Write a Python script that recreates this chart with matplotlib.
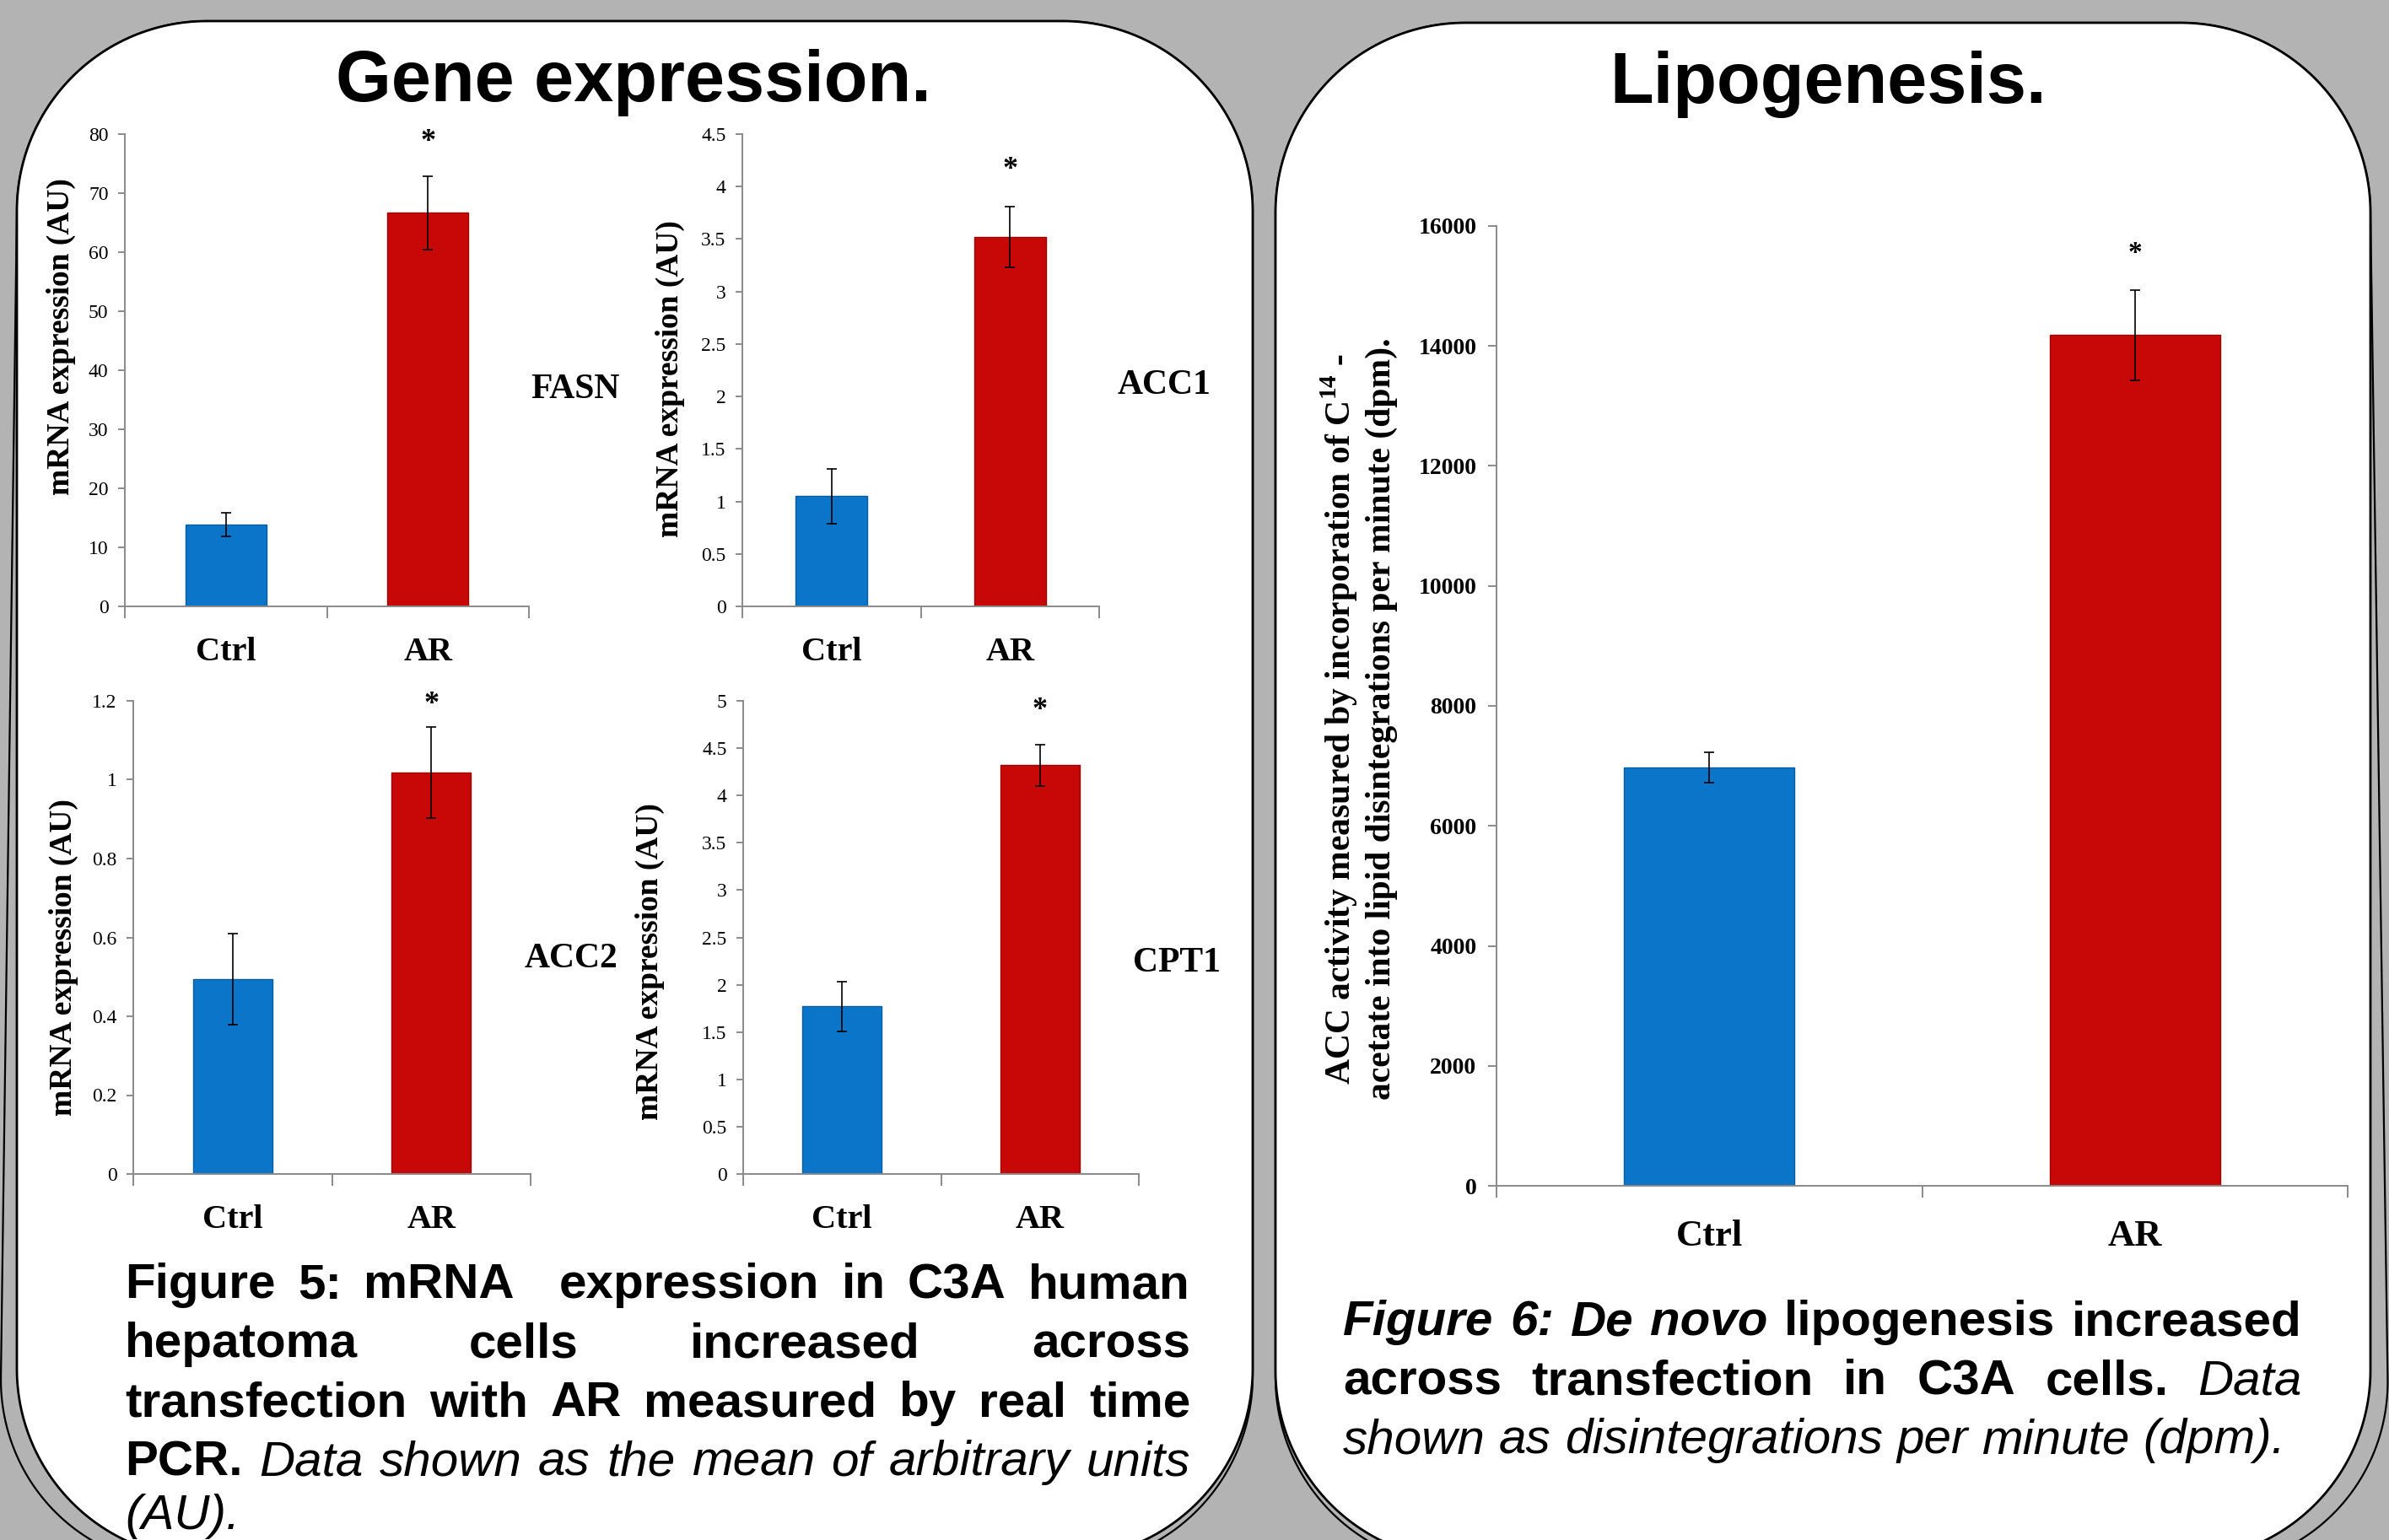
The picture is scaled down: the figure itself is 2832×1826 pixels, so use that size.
import matplotlib.pyplot as plt
import numpy as np
from matplotlib.patches import Polygon

W, H = 2832, 1826
SERIF = ['Liberation Serif', 'DejaVu Serif']
SANS = ['Liberation Sans', 'DejaVu Sans']

plt.rcParams['mathtext.fontset'] = 'custom'
plt.rcParams['mathtext.rm'] = 'Liberation Serif:bold'
plt.rcParams['mathtext.bf'] = 'Liberation Serif:bold'

groups = ['Ctrl', 'AR']

fasn_mean = [13.8, 66.7]
fasn_err = [2.0, 6.2]
acc1_mean = [1.05, 3.52]
acc1_err = [0.26, 0.29]
acc2_mean = [0.494, 1.018]
acc2_err = [0.115, 0.115]
cpt1_mean = [1.77, 4.32]
cpt1_err = [0.26, 0.22]
lipo_mean = [6975, 14180]
lipo_err = [255, 750]

fasn_ticks = [0, 10, 20, 30, 40, 50, 60, 70, 80]
acc1_ticks = [0, 0.5, 1, 1.5, 2, 2.5, 3, 3.5, 4, 4.5]
acc2_ticks = [0, 0.2, 0.4, 0.6, 0.8, 1, 1.2]
cpt1_ticks = [0, 0.5, 1, 1.5, 2, 2.5, 3, 3.5, 4, 4.5, 5]
lipo_ticks = [0, 2000, 4000, 6000, 8000, 10000, 12000, 14000, 16000]

# height of the significance star above AR
fasn_star = 78.6
acc1_star = 4.16
acc2_star = 1.19
cpt1_star = 4.9
lipo_star = 15550

BLUE, RED = '#0B75C9', '#C80707'
BLUE_EDGE, RED_EDGE = '#0A5C9E', '#9C0404'
AXC = '#8a8a8a'

fig = plt.figure(figsize=(W / 100, H / 100), dpi=100)

# background layer in pixel coordinates
bg = fig.add_axes([0, 0, 1, 1], zorder=0)
bg.set_xlim(0, W)
bg.set_ylim(H, 0)
bg.axis('off')
bg.add_patch(plt.Rectangle((0, 0), W, H, color='#b3b3b3', zorder=0))


def rounded(x0, y0, x1, y1, r, n=60):
    pts = []
    for cx, cy, a0, a1 in [(x1 - r, y0 + r, -90, 0), (x1 - r, y1 - r, 0, 90),
                           (x0 + r, y1 - r, 90, 180), (x0 + r, y0 + r, 180, 270)]:
        t = np.radians(np.linspace(a0, a1, n))
        pts += list(zip(cx + r * np.cos(t), cy + r * np.sin(t)))
    return np.array(pts)


def shadow(pts, anchor, k):
    # widen the panel outline towards the bottom, away from anchor x
    sh = pts.copy()
    f = np.clip(sh[:, 1] - 700, 0, None)
    sh[:, 0] = anchor + (sh[:, 0] - anchor) * (1 + k * f)
    sh[:, 1] += 10 * np.clip(f / 1100, 0, 1)
    return sh


# left panel + shadow
lp = rounded(20, 25, 1485, 1848, 225)
bg.add_patch(Polygon(shadow(lp, 1485, 1.4e-5), closed=True, fc='#b3b3b3', ec='black',
                     lw=1.6, zorder=1))
bg.add_patch(Polygon(lp, closed=True, fc='white', ec='black', lw=2, zorder=2))

# right panel + shadow
rp = rounded(1512, 27, 2810, 1850, 225)
bg.add_patch(Polygon(shadow(rp, 1512, 1.7e-5), closed=True, fc='#b3b3b3', ec='black',
                     lw=1.6, zorder=1))
bg.add_patch(Polygon(rp, closed=True, fc='white', ec='black', lw=2, zorder=2))

bg.text(751, 120, 'Gene expression.', family=SANS, fontweight='bold', fontsize=61,
        ha='center', va='baseline', zorder=3)
bg.text(2167, 122, 'Lipogenesis.', family=SANS, fontweight='bold', fontsize=61,
        ha='center', va='baseline', zorder=3)


def bar_chart(box, means, errs, ticks, star, label_px, gene=None, gene_px=None,
              ylabel='mRNA expression (AU)', big=False):
    x0, yt, x1, yb = box
    ax = fig.add_axes([x0 / W, 1 - yb / H, (x1 - x0) / W, (yb - yt) / H], zorder=2)
    ax.patch.set_alpha(0)
    x = np.arange(len(groups))
    ax.bar(x, means, width=0.4, color=[BLUE, RED], edgecolor=[BLUE_EDGE, RED_EDGE],
           linewidth=1, zorder=2)
    ax.errorbar(x, means, yerr=errs, fmt='none', ecolor='black', elinewidth=1.2,
                capsize=4.5, capthick=1.2, zorder=3)
    ax.set_xlim(-0.5, 1.5)
    ax.set_ylim(ticks[0], ticks[-1])
    ax.text(1, star, '*', ha='center', va='center', family=SERIF, fontweight='bold',
            fontsize=26 if not big else 24)
    for sp in ['top', 'right']:
        ax.spines[sp].set_visible(False)
    for sp in ['left', 'bottom']:
        ax.spines[sp].set_color(AXC)
        ax.spines[sp].set_linewidth(1.4)
    ax.set_yticks(ticks)
    ax.set_yticklabels(['{:g}'.format(t) for t in ticks], family=SERIF,
                       fontsize=20 if big else 17, fontweight='bold' if big else 'normal')
    ax.tick_params(axis='y', direction='out', length=7 if big else 6, width=1.4,
                   color=AXC, pad=10 if big else 8)
    ax.set_xticks([-0.5, 0.5, 1.5])
    ax.set_xticklabels([])
    ax.tick_params(axis='x', which='major', direction='out', length=10, width=1.4, color=AXC)
    ax.set_xticks(x, minor=True)
    ax.set_xticklabels(groups, minor=True, family=SERIF, fontweight='bold',
                       fontsize=32 if big else 29)
    ax.tick_params(axis='x', which='minor', length=0, pad=29 if big else 26)
    lx, ly = label_px
    ax.set_ylabel(ylabel, family=SERIF, fontweight='bold', fontsize=30 if big else 27,
                  ha='center', va='center', linespacing=1.2)
    ax.yaxis.set_label_coords((lx - x0) / (x1 - x0), (yb - ly) / (yb - yt))
    if gene:
        bg.text(gene_px[0], gene_px[1], gene, family=SERIF, fontweight='bold', fontsize=30,
                ha='center', va='center', zorder=3)
    return ax


bar_chart((148, 159, 627, 719), fasn_mean, fasn_err, fasn_ticks, fasn_star, (72, 399),
          'FASN', (682, 462))
bar_chart((880, 159, 1303, 719), acc1_mean, acc1_err, acc1_ticks, acc1_star, (794, 449),
          'ACC1', (1380, 457))
bar_chart((158, 831, 629, 1392), acc2_mean, acc2_err, acc2_ticks, acc2_star, (75, 1135),
          'ACC2', (677, 1137))
bar_chart((881, 831, 1350, 1392), cpt1_mean, cpt1_err, cpt1_ticks, cpt1_star, (770, 1140),
          'CPT1', (1395, 1142))
bar_chart((1774, 268, 2783, 1406), lipo_mean, lipo_err, lipo_ticks, lipo_star, (1610, 852),
          ylabel='ACC activity measured by incorporation of C$^{14}$ -\n'
                 'acetate into lipid disintegrations per minute (dpm).', big=True)

# captions, justified word by word (every space is one stretchable gap)
renderer = fig.canvas.get_renderer()
B, I, BI = ('normal', 'bold'), ('italic', 'normal'), ('italic', 'bold')


def caption(lines, x0, x1, ys, size=42):
    for (segs, just), y in zip(lines, ys):
        tokens = []
        for txt, (st, wt) in segs:
            tokens += [(w, st, wt) for w in txt.split(' ')]
        items = []
        for w, st, wt in tokens:
            if w:
                t = bg.text(0, y, w, family=SANS, fontstyle=st, fontweight=wt, fontsize=size,
                            ha='left', va='baseline', zorder=3)
                items.append((t, t.get_window_extent(renderer).width))
            else:
                items.append((None, 0.0))
        n_gaps = len(items) - 1
        total = sum(w for _, w in items)
        if just and n_gaps > 0:
            gap = (x1 - x0 - total) / n_gaps
        else:
            gap = size * 100 / 72 * 0.278
        x = x0
        for t, w in items:
            if t is not None:
                t.set_x(x)
            x += w + gap


caption([
    ([('Figure 5: mRNA  expression in C3A human', B)], True),
    ([('hepatoma cells increased across', B)], True),
    ([('transfection with AR measured by real time', B)], True),
    ([('PCR.', B), ('Data shown as the mean of arbitrary units', I)], True),
    ([('(AU).', I)], False),
], 148, 1411, [1539, 1609, 1679, 1749, 1813])

caption([
    ([('Figure 6: De novo', BI), ('lipogenesis increased', B)], True),
    ([('across transfection in C3A cells.', B), ('Data', I)], True),
    ([('shown as disintegrations per minute (dpm).', I)], False),
], 1592, 2729, [1583, 1653, 1723])

fig.savefig('out.png', dpi=100)
